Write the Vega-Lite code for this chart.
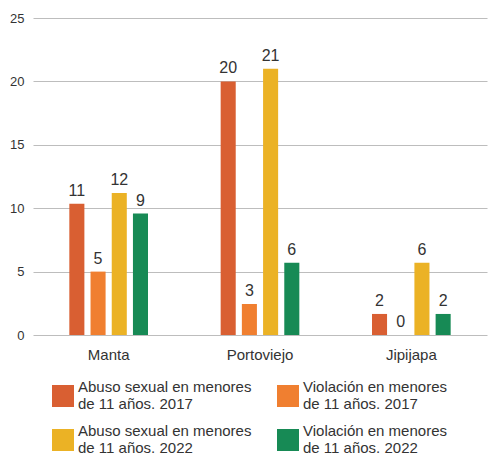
{
  "$schema": "https://vega.github.io/schema/vega-lite/v6.json",
  "width": 454,
  "height": 317,
  "autosize": {"type": "none"},
  "padding": {"left": 33, "top": 18, "right": 8, "bottom": 121},
  "config": {
    "font": "Liberation Sans",
    "view": {"stroke": null}
  },
  "data": {
    "values": [
      {"ciudad": "Manta", "serie": "Abuso sexual en menores de 11 años. 2017", "valor": 10.35, "etiqueta": "11"},
      {"ciudad": "Manta", "serie": "Violación en menores de 11 años. 2017", "valor": 5.0, "etiqueta": "5"},
      {"ciudad": "Manta", "serie": "Abuso sexual en menores de 11 años. 2022", "valor": 11.2, "etiqueta": "12"},
      {"ciudad": "Manta", "serie": "Violación en menores de 11 años. 2022", "valor": 9.58, "etiqueta": "9"},
      {"ciudad": "Portoviejo", "serie": "Abuso sexual en menores de 11 años. 2017", "valor": 20.0, "etiqueta": "20"},
      {"ciudad": "Portoviejo", "serie": "Violación en menores de 11 años. 2017", "valor": 2.45, "etiqueta": "3"},
      {"ciudad": "Portoviejo", "serie": "Abuso sexual en menores de 11 años. 2022", "valor": 21.0, "etiqueta": "21"},
      {"ciudad": "Portoviejo", "serie": "Violación en menores de 11 años. 2022", "valor": 5.7, "etiqueta": "6"},
      {"ciudad": "Jipijapa", "serie": "Abuso sexual en menores de 11 años. 2017", "valor": 1.66, "etiqueta": "2"},
      {"ciudad": "Jipijapa", "serie": "Violación en menores de 11 años. 2017", "valor": 0, "etiqueta": "0"},
      {"ciudad": "Jipijapa", "serie": "Abuso sexual en menores de 11 años. 2022", "valor": 5.7, "etiqueta": "6"},
      {"ciudad": "Jipijapa", "serie": "Violación en menores de 11 años. 2022", "valor": 1.66, "etiqueta": "2"}
    ]
  },
  "encoding": {
    "x": {
      "field": "ciudad",
      "type": "nominal",
      "sort": ["Manta", "Portoviejo", "Jipijapa"],
      "scale": {"paddingInner": 0.34, "paddingOuter": 0.17},
      "axis": {"title": null, "labelAngle": 0, "domain": false, "ticks": false, "labelFontSize": 15, "labelColor": "#333333", "labelPadding": 12}
    },
    "xOffset": {
      "field": "serie",
      "type": "nominal",
      "sort": ["Abuso sexual en menores de 11 años. 2017", "Violación en menores de 11 años. 2017", "Abuso sexual en menores de 11 años. 2022", "Violación en menores de 11 años. 2022"],
      "scale": {"paddingInner": 0.29, "paddingOuter": 0.5}
    },
    "y": {
      "field": "valor",
      "type": "quantitative",
      "scale": {"domain": [0, 25]},
      "axis": {"title": null, "values": [0, 5, 10, 15, 20, 25], "domain": false, "ticks": false, "labelPadding": 9, "gridColor": "#bdbdbd", "gridWidth": 1.2, "labelFontSize": 13, "labelColor": "#333333"}
    }
  },
  "layer": [
    {
      "mark": {"type": "bar"},
      "encoding": {
        "color": {
          "field": "serie",
          "type": "nominal",
          "sort": ["Abuso sexual en menores de 11 años. 2017", "Violación en menores de 11 años. 2017", "Abuso sexual en menores de 11 años. 2022", "Violación en menores de 11 años. 2022"],
          "scale": {
            "domain": ["Abuso sexual en menores de 11 años. 2017", "Violación en menores de 11 años. 2017", "Abuso sexual en menores de 11 años. 2022", "Violación en menores de 11 años. 2022"],
            "range": ["#D95F32", "#F07F30", "#EBB225", "#178A55"]
          },
          "legend": {
            "orient": "bottom",
            "title": null,
            "columns": 2,
            "symbolType": "square",
            "symbolSize": 484,
            "symbolStrokeWidth": 0,
            "labelFontSize": 15,
            "labelColor": "#333333",
            "labelLimit": 260,
            "labelOffset": 4,
            "labelBaseline": "line-bottom",
            "columnPadding": 25,
            "rowPadding": 12,
            "padding": 19,
            "offset": 4,
            "labelExpr": "[slice(datum.label, 0, indexof(datum.label, ' de 11')), slice(datum.label, indexof(datum.label, ' de 11') + 1)]"
          }
        }
      }
    },
    {
      "mark": {"type": "text", "baseline": "bottom", "dy": -5, "fontSize": 16, "color": "#333333"},
      "encoding": {"text": {"field": "etiqueta"}}
    }
  ]
}
